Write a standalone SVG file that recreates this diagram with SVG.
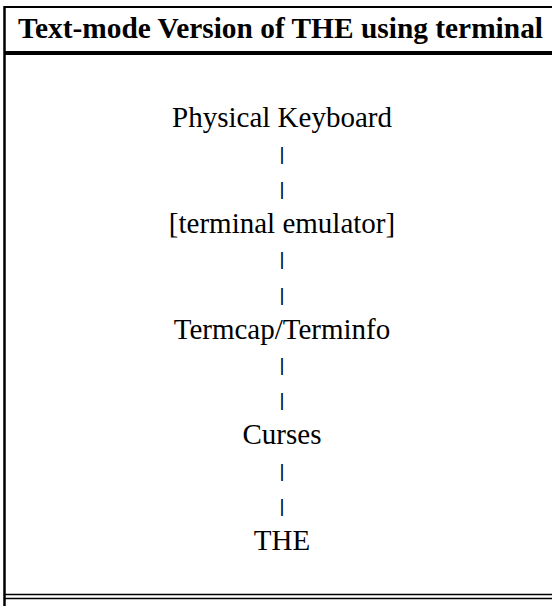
<svg xmlns="http://www.w3.org/2000/svg" width="552" height="606" viewBox="0 0 552 606">
<style>
.frame{stroke:#000;fill:none}
.hd{font-family:"Liberation Serif","Times New Roman",serif;font-weight:bold;font-size:29.4px;fill:#000}
.t{font-family:"Liberation Serif","Times New Roman",serif;font-size:29px;fill:#000;text-anchor:middle}
.p{font-family:"Liberation Sans",Arial,sans-serif;font-size:19px;fill:#000;text-anchor:middle}
</style>
<rect width="552" height="606" fill="#fff"/>
<g id="frame">
<line class="frame" x1="4.5" y1="6" x2="4.5" y2="606" stroke-width="2.5"/>
<line class="frame" x1="4" y1="7" x2="552" y2="7" stroke-width="2"/>
<line class="frame" x1="4" y1="53" x2="552" y2="53" stroke-width="4"/>
<line class="frame" x1="4" y1="594.5" x2="552" y2="594.5" stroke-width="1.5"/>
<line class="frame" x1="4" y1="598.5" x2="552" y2="598.5" stroke-width="1.5"/>
</g>
<g id="header"><text class="hd" x="18" y="38">Text-mode Version of THE using terminal</text></g>
<g id="keyboard"><text class="t" x="282" y="127">Physical Keyboard</text></g>
<g id="emulator"><text class="t" x="282" y="232.75">[terminal emulator]</text></g>
<g id="termcap"><text class="t" x="282" y="338.5">Termcap/Terminfo</text></g>
<g id="curses"><text class="t" x="282" y="444.25">Curses</text></g>
<g id="the"><text class="t" x="282" y="550">THE</text></g>
<g id="connectors">
<text class="p" x="282" y="159.6">|</text>
<text class="p" x="282" y="194.9">|</text>
<text class="p" x="282" y="265.4">|</text>
<text class="p" x="282" y="300.6">|</text>
<text class="p" x="282" y="371.1">|</text>
<text class="p" x="282" y="406.4">|</text>
<text class="p" x="282" y="476.9">|</text>
<text class="p" x="282" y="512.1">|</text>
</g>
</svg>
